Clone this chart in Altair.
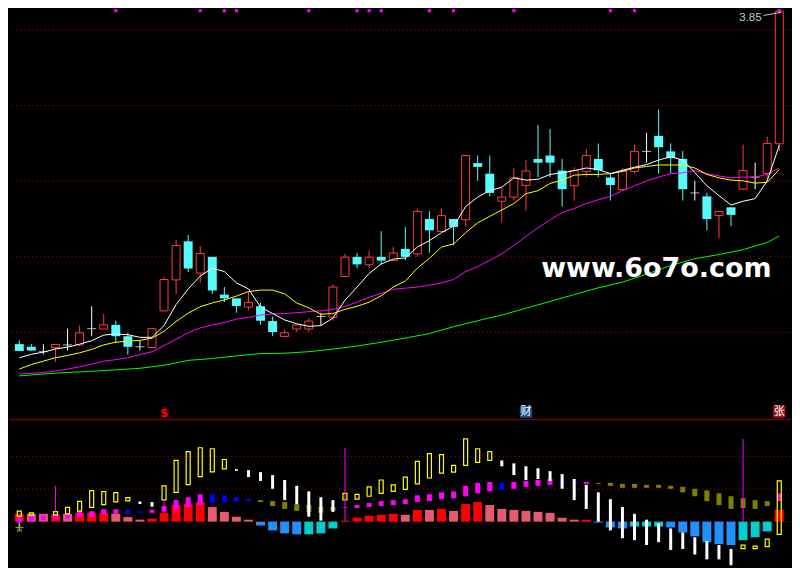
import altair as alt
import pandas as pd

# ---------------- data ----------------
opens = [2.969, 2.962, 2.949, 2.960, 2.967, 2.967, 3.010, 3.009, 3.020, 2.990,
         2.962, 2.960, 3.057, 3.139, 3.241, 3.157, 3.200, 3.100, 3.090, 3.067,
         3.069, 3.030, 2.989, 3.009, 3.009, 3.042, 3.040, 3.148, 3.200, 3.179,
         3.200, 3.190, 3.221, 3.208, 3.300, 3.267, 3.300, 3.298, 3.448, 3.420,
         3.347, 3.358, 3.389, 3.459, 3.468, 3.428, 3.388, 3.426, 3.459, 3.410,
         3.378, 3.426, 3.479, 3.520, 3.479, 3.459, 3.369, 3.360, 3.309, 3.331,
         3.379, 3.411, 3.420, 3.499]
closes = [2.951, 2.952, 2.949, 2.968, 2.967, 2.999, 3.010, 3.020, 2.990, 2.962,
          2.962, 3.010, 3.140, 3.230, 3.169, 3.209, 3.111, 3.090, 3.070, 3.079,
          3.031, 3.001, 2.999, 3.020, 3.030, 3.042, 3.120, 3.199, 3.180, 3.199,
          3.190, 3.210, 3.200, 3.320, 3.270, 3.309, 3.279, 3.468, 3.438, 3.369,
          3.358, 3.409, 3.427, 3.449, 3.449, 3.379, 3.428, 3.468, 3.429, 3.390,
          3.426, 3.479, 3.479, 3.490, 3.461, 3.379, 3.369, 3.300, 3.320, 3.311,
          3.428, 3.411, 3.500, 3.850]
highs = [2.979, 2.969, 2.969, 2.968, 3.010, 3.018, 3.069, 3.049, 3.031, 2.999,
         2.978, 3.010, 3.146, 3.245, 3.258, 3.228, 3.200, 3.120, 3.090, 3.108,
         3.079, 3.042, 3.008, 3.020, 3.038, 3.052, 3.127, 3.208, 3.210, 3.217,
         3.268, 3.227, 3.279, 3.328, 3.321, 3.328, 3.300, 3.468, 3.468, 3.468,
         3.382, 3.435, 3.456, 3.549, 3.538, 3.459, 3.437, 3.486, 3.500, 3.422,
         3.435, 3.497, 3.528, 3.590, 3.500, 3.480, 3.401, 3.369, 3.320, 3.331,
         3.497, 3.449, 3.518, 3.850]
lows = [2.951, 2.952, 2.942, 2.922, 2.952, 2.963, 2.990, 3.009, 2.972, 2.941,
        2.952, 2.960, 3.057, 3.102, 3.160, 3.131, 3.102, 3.080, 3.052, 3.059,
        3.020, 2.990, 2.989, 3.001, 3.001, 3.020, 3.031, 3.148, 3.170, 3.170,
        3.180, 3.190, 3.191, 3.200, 3.211, 3.267, 3.231, 3.281, 3.401, 3.360,
        3.291, 3.349, 3.322, 3.411, 3.411, 3.333, 3.349, 3.411, 3.411, 3.349,
        3.378, 3.420, 3.449, 3.420, 3.420, 3.349, 3.349, 3.270, 3.249, 3.281,
        3.379, 3.379, 3.401, 3.480]

ma_white = [2.933, 2.942, 2.948, 2.956, 2.961, 2.969, 2.978, 2.993, 2.996, 2.994,
            2.987, 2.987, 3.018, 3.074, 3.115, 3.149, 3.170, 3.161, 3.131, 3.115,
            3.067, 3.050, 3.033, 3.023, 3.016, 3.018, 3.038, 3.085, 3.120, 3.156,
            3.181, 3.194, 3.197, 3.226, 3.243, 3.264, 3.281, 3.333, 3.358, 3.375,
            3.384, 3.409, 3.403, 3.405, 3.418, 3.422, 3.428, 3.435, 3.431, 3.420,
            3.429, 3.437, 3.444, 3.456, 3.465, 3.456, 3.423, 3.388, 3.362, 3.337,
            3.347, 3.354, 3.401, 3.495]
ma_yellow = [2.903, 2.915, 2.924, 2.933, 2.939, 2.946, 2.955, 2.967, 2.974, 2.977,
             2.979, 2.985, 3.003, 3.029, 3.051, 3.068, 3.078, 3.086, 3.096, 3.108,
             3.112, 3.112, 3.102, 3.078, 3.065, 3.048, 3.050, 3.061, 3.069, 3.080,
             3.097, 3.120, 3.136, 3.170, 3.196, 3.226, 3.234, 3.264, 3.290, 3.307,
             3.324, 3.341, 3.367, 3.375, 3.394, 3.403, 3.416, 3.418, 3.418, 3.420,
             3.426, 3.435, 3.439, 3.443, 3.443, 3.443, 3.435, 3.418, 3.409, 3.403,
             3.401, 3.395, 3.397, 3.431]
ma_magenta = [2.890, 2.892, 2.894, 2.898, 2.903, 2.909, 2.916, 2.924, 2.928, 2.933,
              2.941, 2.949, 2.965, 2.982, 2.999, 3.012, 3.020, 3.026, 3.035, 3.040,
              3.046, 3.049, 3.050, 3.052, 3.055, 3.057, 3.061, 3.069, 3.080, 3.093,
              3.103, 3.114, 3.117, 3.120, 3.125, 3.131, 3.140, 3.161, 3.174, 3.191,
              3.208, 3.230, 3.254, 3.277, 3.298, 3.317, 3.328, 3.341, 3.351, 3.360,
              3.375, 3.388, 3.401, 3.411, 3.420, 3.422, 3.428, 3.420, 3.414, 3.409,
              3.411, 3.411, 3.418, 3.435]
green_idx = [0, 2, 4, 6, 8, 10, 12, 14, 16, 18, 20, 22, 24, 26, 28, 30, 32,
             34, 36, 38, 40, 42, 44, 46, 48, 50, 52, 54, 56, 58, 60, 62, 63]
ma_green = [2.885, 2.890, 2.894, 2.897, 2.901, 2.905, 2.913, 2.926, 2.931, 2.938,
            2.944, 2.945, 2.949, 2.956, 2.964, 2.974, 2.985, 2.997, 3.015, 3.031,
            3.046, 3.064, 3.082, 3.100, 3.118, 3.133, 3.154, 3.177, 3.195, 3.206,
            3.219, 3.238, 3.255]

grid_prices = [3.8, 3.6, 3.4, 3.2, 3.0]
top_marks = [8, 15, 17, 18, 24, 28, 29, 30, 34, 36, 41, 49, 51, 63]
signals = ["$", "财", "张"]
signal_idx = [12, 42, 63]

# lower indicator panel
hist = [2.4, 2.4, 2.4, 2.2, 2.4, 2.7, 2.7, 2.7, 2.4, 1.4,
        0.6, 0.9, 2.7, 5.1, 5.4, 6.0, 4.5, 3.0, 1.5, 0.6,
        -1.2, -2.7, -3.6, -3.9, -3.9, -3.6, -2.1, 0.3, 1.2, 1.8,
        2.1, 2.4, 2.1, 3.6, 3.6, 3.9, 3.3, 5.4, 6.0, 5.1,
        3.9, 3.6, 3.3, 3.0, 2.7, 1.2, 0.6, 0.6, -0.3, -1.8,
        -2.1, -1.5, -1.5, -1.5, -1.8, -3.3, -4.5, -6.3, -6.9, -7.2,
        -5.7, -4.8, -3.0, 3.6]
hist_cls = ["R", "P", "P", "R", "P", "R", "R", "R", "P", "P",
            "P", "R", "R", "R", "R", "R", "P", "P", "P", "P",
            "B", "B", "B", "B", "C", "C", "C", "R", "R", "R",
            "R", "R", "P", "R", "P", "R", "P", "R", "R", "P",
            "P", "P", "P", "P", "P", "P", "P", "R", "B", "B",
            "B", "C", "C", "C", "B", "B", "B", "B", "B", "B",
            "C", "C", "C", "R"]
sq_lo = [-0.3, 0.0, 0.4, 0.7, 0.9, 1.4, 1.4, 2.2, 2.4, 2.4,
         2.7, 2.7, 3.1, 3.6, 4.5, 5.1, 5.7, 6.0, 6.3, 6.3,
         6.0, 4.8, 3.9, 3.3, 3.0, 2.7, 3.3, 4.3, 4.2, 4.5,
         4.8, 5.1, 5.4, 6.0, 6.3, 6.9, 7.2, 7.8, 8.7, 9.3,
         9.9, 10.1, 10.7, 11.0, 11.3, 11.6, 11.6, 11.6, 11.6, 11.0,
         10.4, 10.4, 10.4, 10.4, 10.1, 9.0, 7.8, 6.3, 5.1, 3.9,
         4.2, 3.9, 4.8, 6.3]
sq_hi = [1.2, 1.7, 1.9, 2.1, 2.4, 3.1, 3.2, 3.8, 3.8, 3.6,
         3.2, 3.6, 4.8, 6.6, 7.5, 8.4, 8.4, 8.1, 7.5, 6.9,
         6.6, 6.3, 6.0, 5.4, 5.1, 4.5, 4.5, 4.5, 5.1, 5.7,
         6.3, 6.6, 6.9, 8.1, 8.4, 9.0, 9.3, 11.0, 11.9, 12.2,
         11.9, 12.2, 12.5, 12.8, 13.1, 12.5, 12.2, 12.2, 11.9, 11.9,
         11.6, 11.6, 11.3, 11.3, 11.0, 10.7, 10.1, 9.6, 8.7, 7.8,
         7.2, 6.6, 6.3, 8.7]
sq_cls = ["M", "M", "M", "M", "M", "M", "M", "M", "M", "B",
          "B", "M", "M", "M", "M", "M", "B", "B", "B", "B",
          "O", "O", "O", "O", "O", "O", "O", "M", "M", "M",
          "M", "M", "M", "M", "M", "M", "M", "M", "M", "M",
          "B", "M", "M", "M", "M", "B", "B", "M", "O", "O",
          "O", "O", "O", "O", "O", "O", "O", "O", "O", "O",
          "O", "O", "O", "M"]
white_idx = [10, 11, 18, 19, 20, 21, 22, 23, 24, 25, 26,
             40, 41, 42, 43, 44, 45, 46, 47, 48, 49, 50, 51, 52, 53, 54, 55, 56, 57, 58, 59]
white_lo = [5.4, 4.6, 15.6, 13.7, 12.5, 10.1, 6.6, 5.4, 1.5, 0.3, 3.0,
            17.0, 14.3, 12.8, 13.1, 12.5, 10.1, 6.6, 3.9, 0.0, -2.7, -5.1, -5.7, -7.2, -6.3,
            -8.7, -8.4, -10.1, -11.6, -11.6, -13.4]
white_hi = [6.2, 6.0, 16.1, 15.8, 15.2, 14.3, 12.8, 11.0, 9.3, 7.5, 6.6,
            18.8, 17.9, 17.0, 16.4, 15.5, 14.6, 13.1, 11.3, 9.0, 6.9, 4.5, 2.4, 0.6, -0.6,
            -2.1, -3.3, -4.8, -6.0, -7.2, -8.4]
yel_idx = [0, 1, 3, 4, 5, 6, 7, 8, 9, 12, 13, 14, 15, 16, 17,
           27, 28, 29, 30, 31, 32, 33, 34, 35, 36, 37, 38, 39, 60, 61, 62, 63]
yel_lo = [1.6, 1.9, 2.1, 2.4, 3.2, 4.4, 5.2, 6.1, 6.4, 6.7, 9.0, 11.4, 13.8, 15.3, 16.2,
          6.7, 6.9, 7.8, 8.7, 9.3, 9.9, 11.6, 13.4, 14.9, 15.2, 17.3, 18.2, 18.8,
          -8.3, -8.3, -7.7, -3.9]
yel_hi = [3.2, 2.7, 3.1, 4.4, 6.2, 9.5, 9.2, 8.9, 7.4, 11.0, 18.8, 21.5, 22.7, 22.4, 19.1,
          8.7, 8.4, 10.7, 12.8, 11.3, 13.7, 18.5, 20.9, 20.6, 17.3, 25.4, 22.4, 21.5,
          -7.2, -7.5, -5.4, 12.5]
mline_idx = [3, 12, 27, 60]
mline_lo = [3.1, 2.7, 0.0, 0.0]
mline_hi = [11.0, 6.3, 22.7, 25.4]
cyan_idx = [0]
cyan_lo = [-2.7]
cyan_hi = [-0.3]
low_grid = [0, 10, 20]

# ---------------- styling ----------------
W, H1, H2 = 784, 410, 149
RED, CYAN, MAG = "#FF3B3B", "#54FCFC", "#FF00FF"
GRID = "#B00000"

X = alt.Scale(domain=[-0.44, 63.56], nice=False, zero=False)
YT = alt.Scale(domain=[2.7718, 3.8538], nice=False, zero=False)
YB = alt.Scale(domain=[-14.03, 31.64], nice=False, zero=False)


def xq(f="i"):
    return alt.X(f"{f}:Q", scale=X, axis=None)


def yt(f):
    return alt.Y(f"{f}:Q", scale=YT, axis=None)


def yb(f):
    return alt.Y(f"{f}:Q", scale=YB, axis=None)


idx = list(range(len(opens)))
kind = ["up" if c > o else ("down" if c < o else "doji") for o, c in zip(opens, closes)]
candles = pd.DataFrame({"i": idx, "open": opens, "close": closes, "high": highs,
                        "low": lows, "kind": kind})
ma = pd.DataFrame({"i": idx, "w": ma_white, "y": ma_yellow, "m": ma_magenta})
green = pd.DataFrame({"i": green_idx, "g": ma_green})

grid_t = alt.Chart(pd.DataFrame({"p": grid_prices})).mark_rule(
    color=GRID, strokeDash=[1, 3], strokeWidth=1).encode(y=yt("p"))


def cd(k):
    return alt.Chart(candles).transform_filter(alt.datum.kind == k)


wick_layers = [cd(k).mark_rule(strokeWidth=1, color=c).encode(x=xq(), y=yt("low"), y2="high")
               for k, c in [("up", RED), ("down", CYAN), ("doji", "#FFFFFF")]]
up_b = cd("up").mark_bar(fill="#000000", stroke=RED, strokeWidth=1, size=8).encode(
    x=xq(), y=yt("open"), y2="close")
dn_b = cd("down").mark_bar(color=CYAN, size=9).encode(x=xq(), y=yt("open"), y2="close")
doji = cd("doji").mark_tick(color="#FFFFFF", orient="horizontal", size=9, thickness=1).encode(
    x=xq(), y=yt("close"))

l_green = alt.Chart(green).mark_line(color="#00FF00", strokeWidth=1).encode(x=xq(), y=yt("g"))
l_mag = alt.Chart(ma).mark_line(color=MAG, strokeWidth=1).encode(x=xq(), y=yt("m"))
l_yel = alt.Chart(ma).mark_line(color="#FFFF00", strokeWidth=1).encode(x=xq(), y=yt("y"))
l_wht = alt.Chart(ma).mark_line(color="#FFFFFF", strokeWidth=1).encode(x=xq(), y=yt("w"))

tmarks = alt.Chart(pd.DataFrame({"i": top_marks})).mark_square(
    color=MAG, size=10, opacity=1).encode(x=xq(), y=alt.value(1))

price_lbl = alt.Chart(pd.DataFrame({"t": [f"{max(highs):.2f}"]})).mark_text(
    align="right", baseline="alphabetic", font="Liberation Sans", fontSize=11.5,
    color="#C8C8C8").encode(text="t:N", x=alt.value(754.5), y=alt.value(11.4))
price_ln = alt.Chart(pd.DataFrame({"t": ["a"]})).mark_rule(color="#C8C8C8", strokeWidth=1).encode(
    x=alt.value(756.5), x2=alt.value(774), y=alt.value(5.8), y2=alt.value(2.6))

watermark = alt.Chart(pd.DataFrame({"t": ["www.6o7o.com"]})).mark_text(
    font="DejaVu Sans", fontWeight="bold", fontSize=27, color="#FFFFFF",
    align="center", baseline="alphabetic").encode(
    text="t:N", x=alt.value(649), y=alt.value(268))

sig = pd.DataFrame({"i": signal_idx, "t": signals})


def sg(t):
    return alt.Chart(sig).transform_filter(alt.datum.t == t)


box_cai = sg("财").mark_square(color="#1A4C88", size=150, opacity=1).encode(
    x=xq(), y=alt.value(403))
box_zhang = sg("张").mark_square(color="#A01212", size=150, opacity=1).encode(
    x=xq(), y=alt.value(403))
txt_dollar = sg("$").mark_text(font="DejaVu Sans", fontWeight="bold", fontSize=12,
                               color="#FF0000", baseline="middle").encode(
    x=xq(), y=alt.value(404), text="t:N")
txt_cai = sg("财").mark_text(font="Noto Sans CJK SC", fontSize=11, color="#FFFFFF",
                            baseline="middle").encode(x=xq(), y=alt.value(403), text="t:N")
txt_zhang = sg("张").mark_text(font="Noto Sans CJK SC", fontSize=11, color="#FFFFFF",
                              baseline="middle").encode(x=xq(), y=alt.value(403), text="t:N")

top = alt.layer(grid_t, l_green, *wick_layers, up_b, dn_b, doji, l_mag, l_yel, l_wht,
                tmarks, price_ln, price_lbl, watermark,
                box_cai, box_zhang, txt_dollar, txt_cai, txt_zhang).properties(width=W, height=H1)

# ---------------- lower panel ----------------
hdf = pd.DataFrame({"i": idx, "h": hist, "c": hist_cls})
sdf = pd.DataFrame({"i": idx, "lo": sq_lo, "hi": sq_hi, "c": sq_cls})
wdf = pd.DataFrame({"i": white_idx, "lo": white_lo, "hi": white_hi})
ydf = pd.DataFrame({"i": yel_idx, "lo": yel_lo, "hi": yel_hi})
mdf = pd.DataFrame({"i": mline_idx, "lo": mline_lo, "hi": mline_hi})
cdf = pd.DataFrame({"i": cyan_idx, "lo": cyan_lo, "hi": cyan_hi})

grid_b = alt.Chart(pd.DataFrame({"v": low_grid})).mark_rule(
    color=GRID, strokeDash=[1, 3], strokeWidth=1).encode(y=yb("v"))
divider = alt.Chart(pd.DataFrame({"v": [0]})).mark_rule(color="#800000", strokeWidth=1.2).encode(
    y=alt.value(1))

hist_colors = {"R": "#FF0000", "P": "#E45A6E", "B": "#1E90FF", "C": "#00CED1"}
hbar_layers = [alt.Chart(hdf).transform_filter(alt.datum.c == k).mark_bar(size=9, color=c).encode(
    x=xq(), y=yb("h"), y2=alt.Y2Datum(0)) for k, c in hist_colors.items()]

sq_colors = {"M": MAG, "B": "#0000FF", "O": "#808000"}
sq_layers = [alt.Chart(sdf).transform_filter(alt.datum.c == k).mark_bar(size=5, color=c).encode(
    x=xq(), y=yb("lo"), y2="hi") for k, c in sq_colors.items()]

wbars = alt.Chart(wdf).mark_bar(size=3, color="#FFFFFF").encode(x=xq(), y=yb("lo"), y2="hi")
ybars = alt.Chart(ydf).mark_bar(size=4, fillOpacity=0, stroke="#FFFF00", strokeWidth=1.2).encode(
    x=xq(), y=yb("lo"), y2="hi")
mlines = alt.Chart(mdf).mark_rule(color=MAG, strokeWidth=1).encode(x=xq(), y=yb("lo"), y2="hi")
clines = alt.Chart(cdf).mark_rule(color=CYAN, strokeWidth=1).encode(x=xq(), y=yb("lo"), y2="hi")
star = alt.Chart(pd.DataFrame({"t": ["☆"]})).mark_text(
    font="DejaVu Sans", fontSize=11, color="#FFFF00", baseline="middle").encode(
    text="t:N", x=alt.value(10.5), y=alt.value(111))

bottom = alt.layer(grid_b, divider, *hbar_layers, *sq_layers, wbars, ybars, mlines, clines,
                   star).properties(width=W, height=H2)

chart = alt.vconcat(top, bottom, spacing=0).properties(
    background="#000000", padding=0).configure_view(strokeWidth=0)

chart.save("out.html", embed_options={"renderer": "svg", "actions": False})
